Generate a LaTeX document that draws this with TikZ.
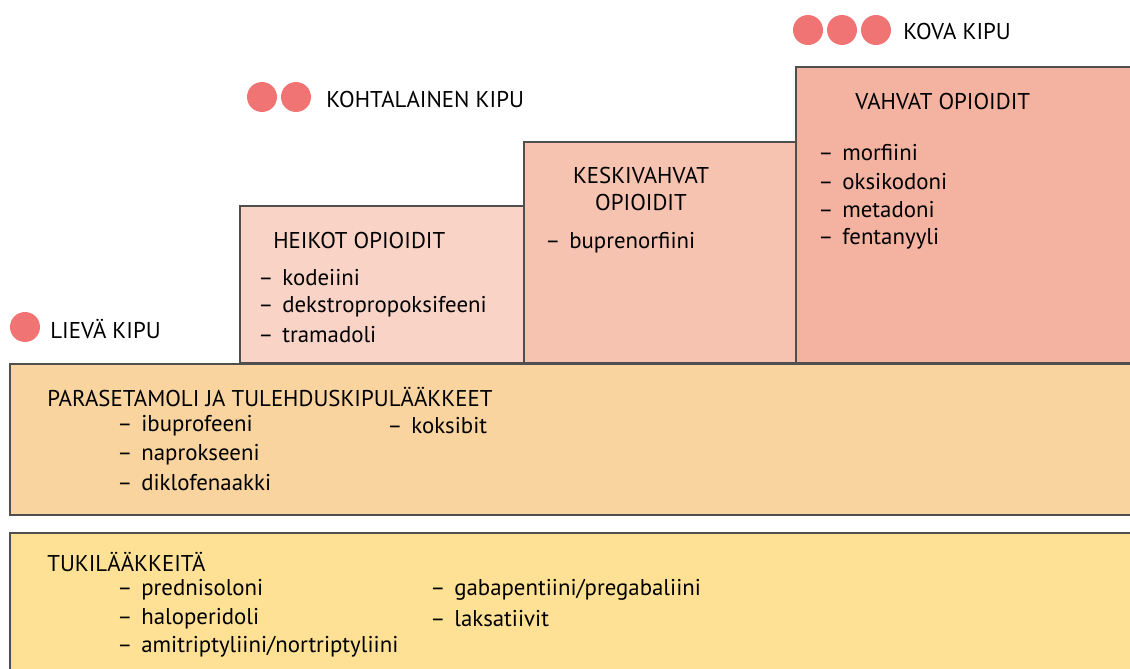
\documentclass[tikz,border=0pt]{standalone}
\usepackage{fontspec}
\setmainfont{PT Sans}
\usepackage{xcolor}
\usetikzlibrary{positioning}

\definecolor{dotred}{HTML}{F07474}
\definecolor{weakfill}{HTML}{F9D3C6}
\definecolor{midfill}{HTML}{F6C3B0}
\definecolor{strongfill}{HTML}{F4B3A1}
\definecolor{basefill}{HTML}{F9D49F}
\definecolor{supportfill}{HTML}{FEE195}
\definecolor{edgegray}{HTML}{4F4F4F}

\newcommand{\drug}[1]{\makebox[0.48cm][l]{--}#1}

\begin{document}
\begin{tikzpicture}[x=0.02cm, y=-0.02cm,
  stepbox/.style={draw=edgegray, line width=0.8pt},
  painmark/.style={circle, fill=dotred, inner sep=0pt, minimum size=0.6cm},
  label/.style={anchor=west, inner sep=0pt, font=\fontsize{13}{15}\selectfont},
  entry/.style={label, below=0.57cm of #1.west, anchor=west}]
\useasboundingbox (0,0) rectangle (1130,669);
\clip (0,0) rectangle (1130,669);

% staircase boxes
\draw[stepbox, fill=weakfill] (240,363) rectangle (524,206);
\draw[stepbox, fill=midfill] (524,363) rectangle (796,142);
\draw[stepbox, fill=strongfill] (796,363) rectangle (1140,67);
\draw[stepbox, fill=basefill] (10,364) rectangle (1140,515);
\draw[stepbox, fill=supportfill] (10,533) rectangle (1140,690);

% pain levels
\node[painmark] (d1) at (25,327) {};
\node[label] (mild) at (50,329) {LIEVÄ KIPU};
\node[painmark] (d2a) at (262,97) {};
\node[painmark] (d2b) at (296,97) {};
\node[label] (moderate) at (326,100) {KOHTALAINEN KIPU};
\node[painmark] (d3a) at (808,30) {};
\node[painmark] (d3b) at (842,30) {};
\node[painmark] (d3c) at (876,30) {};
\node[label] (severe) at (903,32) {KOVA KIPU};

% weak opioids
\node[label] (weak) at (273,241) {HEIKOT OPIOIDIT};
\node[label] (w1) at (258,278) {\drug{kodeiini}};
\node[entry=w1] (w2) {\drug{dekstropropoksifeeni}};
\node[entry=w2] (w3) {\drug{tramadoli}};

% medium opioids
\node[label, align=center, anchor=center] (mid) at (641,189) {KESKIVAHVAT\\OPIOIDIT};
\node[label] (m1) at (545,243) {\drug{buprenorfiini}};

% strong opioids
\node[label] (strong) at (855,102) {VAHVAT OPIOIDIT};
\node[label] (s1) at (818,153) {\drug{morfiini}};
\node[entry=s1] (s2) {\drug{oksikodoni}};
\node[entry=s2] (s3) {\drug{metadoni}};
\node[entry=s3] (s4) {\drug{fentanyyli}};

% paracetamol and nsaids
\node[label] (base) at (47,397) {PARASETAMOLI JA TULEHDUSKIPULÄÄKKEET};
\node[label] (b1) at (117,426) {\drug{ibuprofeeni}};
\node[entry=b1] (b2) {\drug{naprokseeni}};
\node[entry=b2] (b3) {\drug{diklofenaakki}};
\node[label] (b4) at (387,426) {\drug{koksibit}};

% supportive drugs
\node[label] (support) at (47,562) {TUKILÄÄKKEITÄ};
\node[label] (t1) at (117,590) {\drug{prednisoloni}};
\node[entry=t1] (t2) {\drug{haloperidoli}};
\node[entry=t2] (t3) {\drug{amitriptyliini/nortriptyliini}};
\node[label] (t4) at (430,590) {\drug{gabapentiini/pregabaliini}};
\node[entry=t4] (t5) {\drug{laksatiivit}};
\end{tikzpicture}
\end{document}
